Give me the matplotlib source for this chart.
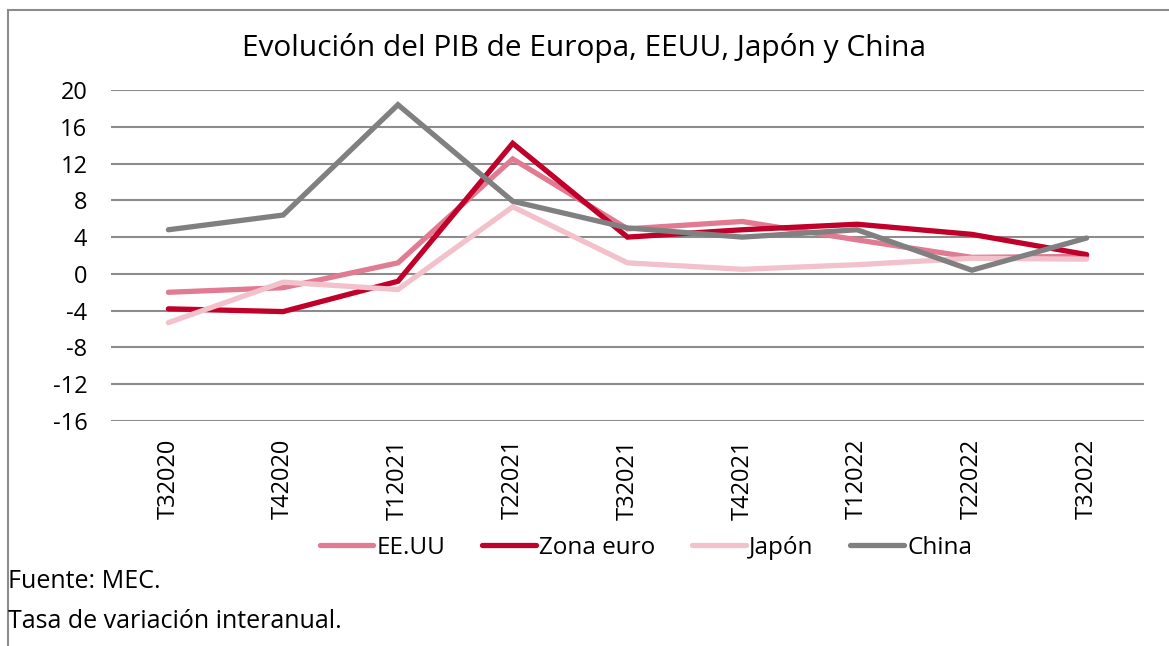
import numpy as np
import matplotlib.pyplot as plt
from matplotlib.lines import Line2D

plt.rcParams['font.family'] = ['Open Sans', 'DejaVu Sans']
plt.rcParams['axes.unicode_minus'] = False

trimestres = ['T32020', 'T42020', 'T12021', 'T22021', 'T32021',
              'T42021', 'T12022', 'T22022', 'T32022']
eeuu = [-2.0, -1.5, 1.2, 12.5, 4.9, 5.7, 3.7, 1.8, 1.9]
zona_euro = [-3.8, -4.1, -0.8, 14.2, 4.0, 4.8, 5.4, 4.3, 2.1]
japon = [-5.3, -0.9, -1.7, 7.3, 1.2, 0.5, 1.0, 1.7, 1.6]
china = [4.8, 6.4, 18.4, 7.9, 5.0, 4.0, 4.8, 0.4, 3.9]

series = [('EE.UU', eeuu, '#E07B91'),
          ('Zona euro', zona_euro, '#C0002A'),
          ('Japón', japon, '#F2C1CB'),
          ('China', china, '#808080')]

W, H = 1169, 646
fig = plt.figure(figsize=(W/100, H/100), dpi=100)
ax = fig.add_axes([111/W, 1-421/H, (1144-111)/W, (421-90)/H])

x = np.arange(len(trimestres))
for nombre, vals, col in series:
    ax.plot(x, vals, color=col, lw=3.8, label=nombre, solid_capstyle='round',
            solid_joinstyle='miter')

ax.set_xlim(-0.5, len(trimestres) - 0.5)
ax.set_ylim(-16, 20)
ax.set_yticks(np.arange(-16, 21, 4))
ax.yaxis.grid(True, color='#8c8c8c', lw=1.5)
ax.set_axisbelow(True)
for s in ax.spines.values():
    s.set_visible(False)
ax.tick_params(axis='both', length=0, labelsize=17)
ax.tick_params(axis='y', pad=17)
ax.tick_params(axis='x', pad=13)
ax.set_xticks(x)
ax.set_xticklabels(trimestres, rotation=90)

fig.text(0.5, 1-48/H, 'Evolución del PIB de Europa, EEUU, Japón y China',
         ha='center', va='center', fontsize=21.5)

handles = [Line2D([0], [0], color=c, lw=3.8, solid_capstyle='round') for _, _, c in series]
fig.legend(handles, [s[0] for s in series], loc='center', bbox_to_anchor=(646/W, 1-548/H),
           ncol=4, frameon=False, fontsize=17.5, handlelength=2.2, handletextpad=0.15,
           columnspacing=1.5)

fig.text(8/W, 1-582/H, 'Fuente: MEC.', ha='left', va='center', fontsize=18)
fig.text(8/W, 1-622/H, 'Tasa de variación interanual.', ha='left', va='center', fontsize=18)

# borde del gráfico (arriba e izquierda)
fig.add_artist(Line2D([8/W, 8/W], [0, 1-10/H], color='#8c8c8c', lw=1.5))
fig.add_artist(Line2D([8/W, 1], [1-10/H, 1-10/H], color='#8c8c8c', lw=1.5))

fig.savefig('out.png', dpi=100)
